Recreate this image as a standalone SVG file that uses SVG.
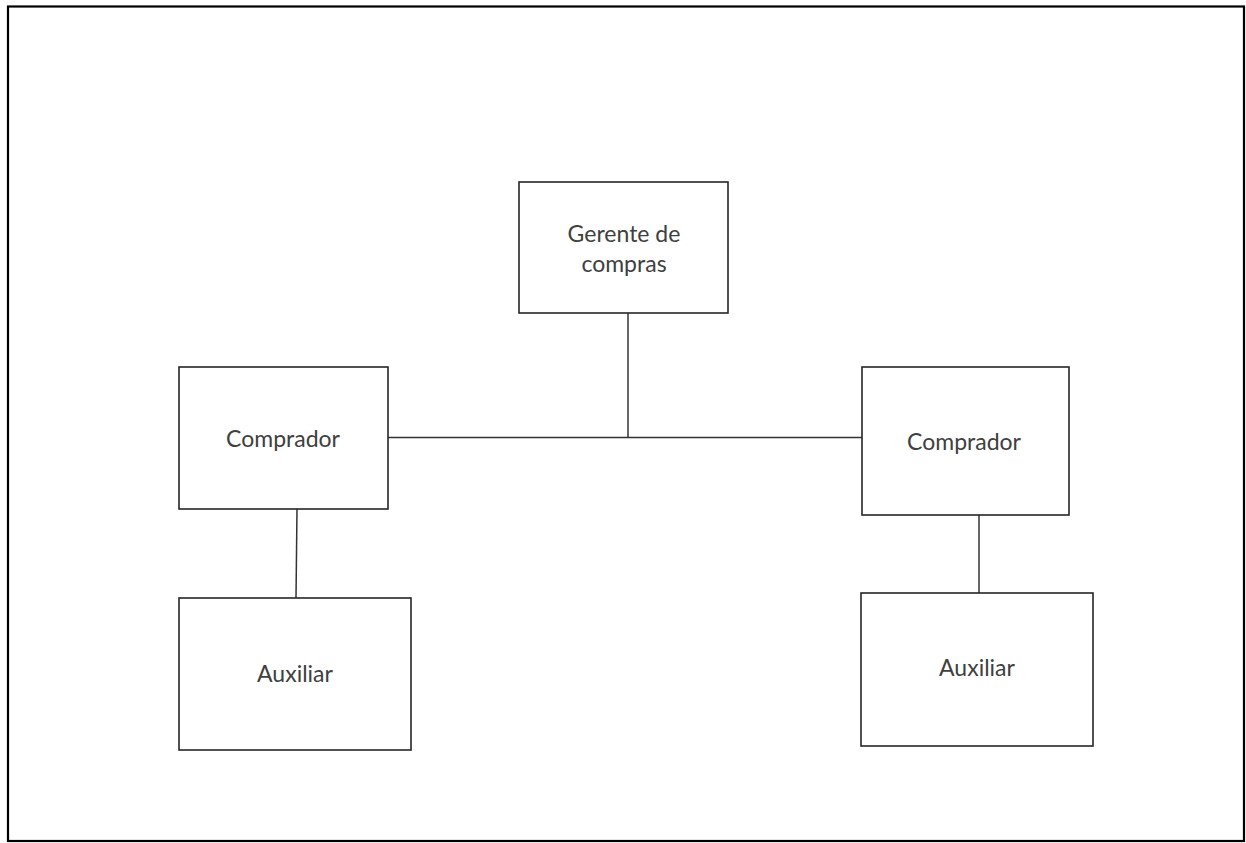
<svg xmlns="http://www.w3.org/2000/svg" width="1246" height="843" viewBox="0 0 1246 843">
<style>
.frame{fill:#fff;stroke:#000;stroke-width:2.2}
.box{fill:#fff;stroke:#262626;stroke-width:1.6}
.conn{stroke:#333;stroke-width:1.5;fill:none}
.lbl{font-family:Lato,"Liberation Sans",sans-serif;font-size:23px;fill:#404040;text-anchor:middle}
</style>
<rect x="0" y="0" width="1246" height="843" fill="#fff"/>
<rect class="frame" x="8" y="6.5" width="1236" height="834.5"/>
<g id="connectors">
<line class="conn" x1="628" y1="313" x2="628" y2="437.5"/>
<line class="conn" x1="388" y1="437.5" x2="862" y2="437.5"/>
<line class="conn" x1="297" y1="509" x2="296" y2="598"/>
<line class="conn" x1="979" y1="515" x2="979" y2="593"/>
</g>
<g id="gerente">
<rect class="box" x="519" y="182" width="209" height="131"/>
<text class="lbl" x="624" y="242">Gerente de</text>
<text class="lbl" x="624" y="272">compras</text>
</g>
<g id="comprador-left">
<rect class="box" x="179" y="367" width="209" height="142"/>
<text class="lbl" x="283" y="447">Comprador</text>
</g>
<g id="comprador-right">
<rect class="box" x="862" y="367" width="207" height="148"/>
<text class="lbl" x="964" y="450">Comprador</text>
</g>
<g id="auxiliar-left">
<rect class="box" x="179" y="598" width="232" height="152"/>
<text class="lbl" x="295" y="682">Auxiliar</text>
</g>
<g id="auxiliar-right">
<rect class="box" x="861" y="593" width="232" height="153"/>
<text class="lbl" x="977" y="676">Auxiliar</text>
</g>
</svg>
